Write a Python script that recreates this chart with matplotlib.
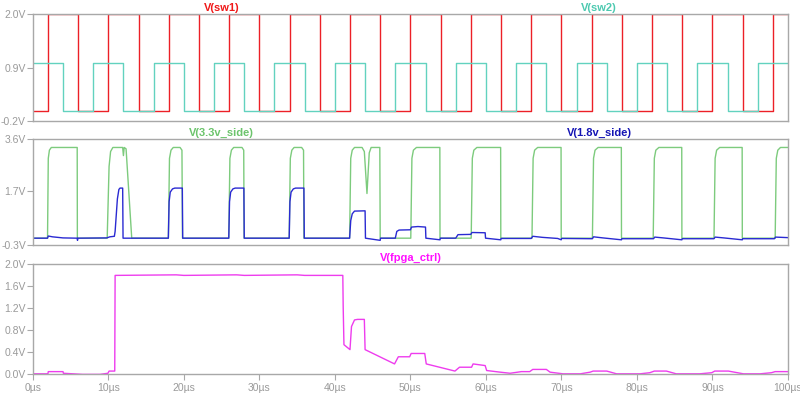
import matplotlib
matplotlib.use("Agg")
import matplotlib.pyplot as plt

plt.rcParams["font.family"] = ["Liberation Sans", "DejaVu Sans"]

# ---- data (time in us, volts) ----
# square-wave switch signals: edge times, alternating levels
sw1_edges = [2.0, 6.0, 10.0, 14.0, 18.0, 22.0, 26.0, 30.0, 34.0, 38.0, 42.0, 46.0,
             50.0, 54.0, 58.0, 62.0, 66.0, 70.0, 74.0, 78.0, 82.0, 86.0, 90.0, 94.0, 98.0]
sw1_levels = (0.0, 2.0)          # starts low
sw2_edges = [4.0, 8.0, 12.0, 16.0, 20.0, 24.0, 28.0, 32.0, 36.0, 40.0, 44.0, 48.0,
             52.0, 56.0, 60.0, 64.0, 68.0, 72.0, 76.0, 80.0, 84.0, 88.0, 92.0, 96.0]
sw2_levels = (1.0, 0.0)          # starts high

side33_t = [0, 1.95, 2.05, 2.2, 2.45, 5.88, 5.9,
            9.85, 10.1, 10.3, 10.6, 11.9, 12.0, 12.1, 12.35, 13.1,
            17.95, 18.1, 18.3, 18.6, 19.5, 19.75, 19.82,
            25.95, 26.1, 26.3, 26.6, 27.7, 27.93, 27.98,
            33.95, 34.1, 34.3, 34.6, 35.6, 35.85, 35.9,
            41.95, 42.1, 42.3, 42.6, 43.6, 43.9, 44.25, 44.55, 44.8, 45.95, 46.0,
            50.05, 50.2, 50.4, 50.8, 53.9, 53.92,
            58.05, 58.2, 58.4, 58.8, 61.95, 61.97,
            66.1, 66.25, 66.45, 66.85, 69.95, 69.97,
            74.1, 74.25, 74.45, 74.85, 77.93, 77.95,
            82.15, 82.3, 82.5, 82.9, 85.93, 85.95,
            90.2, 90.35, 90.55, 90.95, 93.93, 93.95,
            98.3, 98.45, 98.65, 99.0, 100.0]
side33_v = [-0.05, -0.05, 2.9, 3.2, 3.3, 3.3, -0.05,
            -0.05, 2.6, 3.15, 3.3, 3.3, 3.0, 3.3, 3.25, -0.05,
            -0.05, 2.9, 3.2, 3.3, 3.3, 3.2, -0.05,
            -0.05, 2.9, 3.2, 3.3, 3.3, 3.2, -0.05,
            -0.05, 2.9, 3.2, 3.3, 3.3, 3.2, -0.05,
            -0.05, 2.9, 3.2, 3.3, 3.3, 3.15, 1.6, 3.1, 3.3, 3.3, -0.05,
            -0.05, 2.9, 3.2, 3.3, 3.3, -0.05,
            -0.05, 2.9, 3.2, 3.3, 3.3, -0.05,
            -0.05, 2.9, 3.2, 3.3, 3.3, -0.05,
            -0.05, 2.9, 3.2, 3.3, 3.3, -0.05,
            -0.05, 2.9, 3.2, 3.3, 3.3, -0.05,
            -0.05, 2.9, 3.2, 3.3, 3.3, -0.05,
            -0.05, 2.9, 3.2, 3.3, 3.3]

side18_t = [0, 1.95, 2.05, 2.6, 4.0, 5.88, 5.92, 5.96,
            9.8, 10.2, 10.8, 10.9, 11.2, 11.4, 11.55, 11.9, 11.95,
            17.95, 18.05, 18.2, 18.5, 18.8, 19.8, 19.85,
            25.95, 26.05, 26.2, 26.5, 26.8, 27.95, 28.0,
            33.95, 34.05, 34.2, 34.5, 34.8, 35.9, 35.95,
            41.95, 42.1, 42.3, 42.6, 44.0, 44.05, 46.0, 46.04,
            48.0, 48.2, 48.5, 50.0, 50.15, 51.0, 52.0, 52.05,
            53.92, 53.96, 56.0, 56.3, 58.0, 58.15, 59.9, 59.95,
            61.97, 62.01, 66.0, 66.2, 67.5, 69.5, 69.97, 70.01,
            74.1, 74.25, 75.5, 77.95, 77.99,
            82.2, 82.35, 83.5, 85.95, 85.99,
            90.2, 90.35, 91.5, 93.95, 93.99,
            98.2, 98.35, 100.0]
side18_v = [-0.05, -0.05, 0.03, 0.0, -0.04, -0.05, -0.13, -0.05,
            -0.04, 0.0, 0.02, 0.2, 1.4, 1.75, 1.8, 1.8, -0.05,
            -0.05, 1.3, 1.65, 1.77, 1.8, 1.8, -0.05,
            -0.05, 1.3, 1.65, 1.77, 1.8, 1.8, -0.05,
            -0.05, 1.3, 1.65, 1.77, 1.8, 1.8, -0.05,
            -0.05, 0.6, 0.85, 0.95, 0.96, -0.05, -0.13, -0.05,
            -0.05, 0.2, 0.25, 0.26, 0.36, 0.38, 0.36, -0.05,
            -0.11, -0.05, -0.05, 0.08, 0.09, 0.16, 0.15, -0.05,
            -0.11, -0.06, -0.06, 0.02, -0.02, -0.06, -0.11, -0.06,
            -0.07, 0.0, -0.04, -0.11, -0.07,
            -0.07, -0.01, -0.04, -0.11, -0.07,
            -0.07, -0.01, -0.04, -0.11, -0.07,
            -0.07, -0.01, -0.03]

fpga_t = [0, 2.0, 2.05, 4.0, 4.05, 6.6, 8.9, 9.95, 10.1, 10.85, 10.9,
          19.0, 20.0, 27.0, 28.0, 35.0, 36.0, 41.05, 41.1, 41.2, 42.0,
          42.2, 42.6, 43.0, 43.9, 44.0, 47.9, 48.4, 49.9, 50.1, 51.9, 52.1,
          55.9, 56.5, 58.1, 58.3, 59.9, 60.1, 61.9, 63.2, 64.7, 65.8, 66.2,
          68.0, 68.5, 70.2, 72.5, 73.8, 74.2, 76.0, 77.3, 80.4, 81.7, 82.3,
          83.9, 85.2, 88.3, 89.9, 90.3, 92.1, 94.1, 96.3, 97.8, 98.3, 100.0]
fpga_v = [0.01, 0.01, 0.05, 0.05, 0.02, 0.0, 0.0, 0.02, 0.06, 0.06, 1.80,
          1.81, 1.80, 1.81, 1.80, 1.81, 1.80, 1.80, 1.23, 0.54, 0.45,
          0.87, 0.99, 1.0, 1.0, 0.45, 0.19, 0.32, 0.32, 0.38, 0.38, 0.19,
          0.06, 0.13, 0.13, 0.19, 0.16, 0.07, 0.04, 0.02, 0.05, 0.05, 0.09,
          0.09, 0.04, 0.01, 0.01, 0.04, 0.06, 0.06, 0.01, 0.01, 0.03, 0.06,
          0.06, 0.01, 0.01, 0.03, 0.06, 0.06, 0.01, 0.01, 0.03, 0.05, 0.05]

x_ticks = [0, 10, 20, 30, 40, 50, 60, 70, 80, 90, 100]
top_ticks = [-0.2, 0.9, 2.0]
mid_ticks = [-0.3, 1.7, 3.6]
bot_ticks = [0.0, 0.4, 0.8, 1.2, 1.6, 2.0]

FRAME = "#a8a8a8"
LABEL = "#9a9a9a"


def square(edges, levels, t_end=100.0):
    t, v = [0.0], [levels[0]]
    cur = 0
    for e in edges:
        t += [e, e]
        v += [levels[cur], levels[1 - cur]]
        cur = 1 - cur
    t.append(t_end)
    v.append(levels[cur])
    return t, v


def style(ax, yticks, fmt, show_x):
    ax.set_xlim(0, 100)
    ax.set_ylim(yticks[0], yticks[-1])
    for s in ax.spines.values():
        s.set_color(FRAME)
        s.set_linewidth(1.0)
    ax.set_yticks(yticks)
    ax.set_yticklabels([fmt.format(y) for y in yticks])
    ax.set_xticks(x_ticks)
    if show_x:
        ax.set_xticklabels([f"{x}µs" for x in x_ticks])
        ax.tick_params(axis="x", length=4, color=FRAME, labelcolor=LABEL,
                       labelsize=7.5, pad=2)
    else:
        ax.tick_params(axis="x", length=0, labelbottom=False)
    ax.tick_params(axis="y", length=4, color=FRAME, labelcolor=LABEL,
                   labelsize=7.5, pad=1)


fig = plt.figure(figsize=(8.0, 3.97), dpi=100)
left, width = 0.041, 0.944
ax1 = fig.add_axes([left, 0.695, width, 0.269])
ax2 = fig.add_axes([left, 0.383, width, 0.266])
ax3 = fig.add_axes([left, 0.057, width, 0.277])

t1, v1 = square(sw1_edges, sw1_levels)
t2, v2 = square(sw2_edges, sw2_levels)
ax1.plot(t1, v1, color="#ec2027", lw=1.0)
ax1.plot(t2, v2, color="#62d2bf", lw=1.0)
style(ax1, top_ticks, "{:.1f}V", False)
ax1.text(0.25, 1.01, "V(sw1)", color="#f01818", transform=ax1.transAxes,
         ha="center", va="bottom", fontsize=8, fontweight="bold")
ax1.text(0.75, 1.01, "V(sw2)", color="#4cc9b0", transform=ax1.transAxes,
         ha="center", va="bottom", fontsize=8, fontweight="bold")

ax2.plot(side33_t, side33_v, color="#7dcb7d", lw=1.0)
ax2.plot(side18_t, side18_v, color="#2a2ad2", lw=1.0)
style(ax2, mid_ticks, "{:.1f}V", False)
ax2.text(0.25, 1.01, "V(3.3v_side)", color="#6cc46c", transform=ax2.transAxes,
         ha="center", va="bottom", fontsize=8, fontweight="bold")
ax2.text(0.75, 1.01, "V(1.8v_side)", color="#1414b4", transform=ax2.transAxes,
         ha="center", va="bottom", fontsize=8, fontweight="bold")

ax3.plot(fpga_t, fpga_v, color="#ee3cee", lw=1.0)
style(ax3, bot_ticks, "{:.1f}V", True)
ax3.text(0.5, 1.01, "V(fpga_ctrl)", color="#ff10ff", transform=ax3.transAxes,
         ha="center", va="bottom", fontsize=8, fontweight="bold")

fig.savefig("out.png", dpi=100)
